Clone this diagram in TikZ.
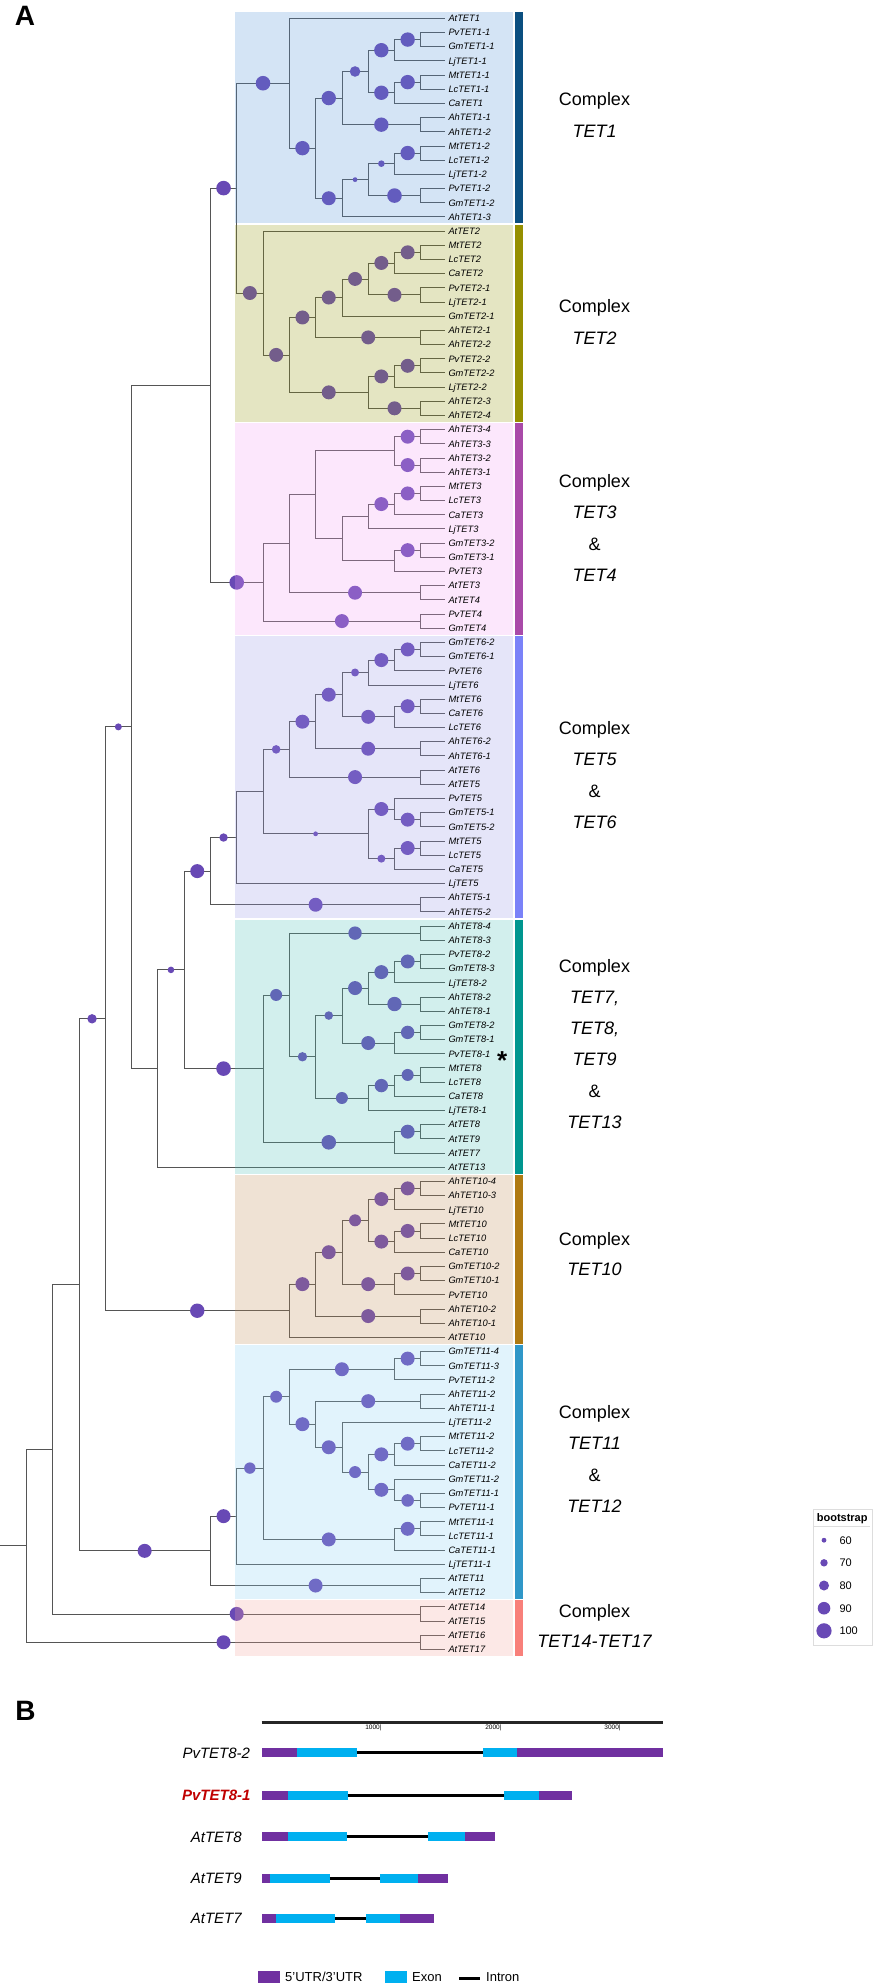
\documentclass[tikz,border=0pt]{standalone}
\usepackage{fontspec}
\setmainfont{Liberation Sans}
\usetikzlibrary{calc}
\pgfdeclarelayer{bgw}\pgfdeclarelayer{tree}\pgfdeclarelayer{pts}\pgfdeclarelayer{hl}
\pgfsetlayers{bgw,tree,pts,hl,main}
\definecolor{brc}{HTML}{555555}
\definecolor{ptc}{HTML}{6849B5}
\definecolor{hA}{HTML}{5797DB}\definecolor{bA}{HTML}{0B4F80}
\definecolor{hB}{HTML}{979B0F}\definecolor{bB}{HTML}{958F00}
\definecolor{hC}{HTML}{F7A3F7}\definecolor{bC}{HTML}{A94AA8}
\definecolor{hD}{HTML}{9B9BEB}\definecolor{bD}{HTML}{7A82F8}
\definecolor{hE}{HTML}{4FC3BB}\definecolor{bE}{HTML}{00968F}
\definecolor{hF}{HTML}{C38F57}\definecolor{bF}{HTML}{AF7A12}
\definecolor{hG}{HTML}{8BD3F7}\definecolor{bG}{HTML}{3097C8}
\definecolor{hH}{HTML}{F7A79F}\definecolor{bH}{HTML}{F8807A}
\definecolor{utr}{HTML}{7030A0}
\definecolor{exn}{HTML}{00B0F0}
\definecolor{redlab}{HTML}{C00000}
\definecolor{legb}{HTML}{DDDDDD}
\tikzset{
  br/.style={draw=brc, line width=0.8pt},
  bsc/.style={circle, inner sep=0pt, minimum size={2*#1}, fill=ptc, draw=none},
  lab/.style={font=\fontsize{9.3}{10}\selectfont\itshape, inner sep=0pt, anchor=base west},
  grp/.style={font=\fontsize{18}{20}\selectfont, inner sep=0pt, anchor=base},
  grpi/.style={font=\fontsize{18}{20}\selectfont\itshape, inner sep=0pt, anchor=base},
  lnum/.style={font=\fontsize{11}{12}\selectfont, inner sep=0pt, anchor=base west},
  glab/.style={font=\fontsize{15}{16}\selectfont\itshape, inner sep=0pt, anchor=base},
  tick/.style={font=\fontsize{6.5}{7}\selectfont, inner sep=0pt, anchor=base east},
  blab/.style={font=\fontsize{13}{14}\selectfont, inner sep=0pt, anchor=base west},
  panel/.style={font=\fontsize{28}{28}\selectfont\bfseries, inner sep=0pt, anchor=base},
}
\newcommand\mkN[4]{%
  \path let \p1=($(#3)!0.5!(#4)$) in coordinate (#1) at ({#2*26.3pt},\y1);%
  \begin{pgfonlayer}{tree}\draw[br] (#1) |- (#3); \draw[br] (#1) |- (#4);\end{pgfonlayer}}
\newcommand\mkB[3]{%
  \begin{pgfonlayer}{pts}\path let \p1=(#1), \p2=(#2) in node[bsc=#3] (b#2) at ({(\x1+\x2)/2},\y2) {};\end{pgfonlayer}}
\newcommand\hlbox[4]{%
  \pgfmathsetmacro\hlya{18.3+14.183*(#1-1)-6.4}%
  \pgfmathsetmacro\hlyb{18.3+14.183*(#2-1)+6.4}%
  \begin{pgfonlayer}{hl}\fill[#3, fill opacity=0.25] (235,\hlya) rectangle (513.3,\hlyb);\end{pgfonlayer}%
  \fill[#4] (514.7,\hlya) rectangle (523.3,\hlyb);}
\newcommand\gseg[4]{\fill[#4] (#1,#3-4.65) rectangle (#2,#3+4.65);}
\newcommand\gint[3]{\draw[line width=3pt] (#1,#3) -- (#2,#3);}
\begin{document}
\begin{tikzpicture}[x=1pt,y=-1pt]
\useasboundingbox (0,0) rectangle (873,1983);
\begin{pgfonlayer}{bgw}\fill[white] (0,0) rectangle (873,1983);\end{pgfonlayer}
\node[panel] (pA) at (25,25.1) {A};
% leaves
\foreach \nm [count=\i] in {AtTET1,PvTET1-1,GmTET1-1,LjTET1-1,MtTET1-1,LcTET1-1,CaTET1,AhTET1-1,AhTET1-2,MtTET1-2,LcTET1-2,LjTET1-2,PvTET1-2,GmTET1-2,AhTET1-3,%
AtTET2,MtTET2,LcTET2,CaTET2,PvTET2-1,LjTET2-1,GmTET2-1,AhTET2-1,AhTET2-2,PvTET2-2,GmTET2-2,LjTET2-2,AhTET2-3,AhTET2-4,%
AhTET3-4,AhTET3-3,AhTET3-2,AhTET3-1,MtTET3,LcTET3,CaTET3,LjTET3,GmTET3-2,GmTET3-1,PvTET3,AtTET3,AtTET4,PvTET4,GmTET4,%
GmTET6-2,GmTET6-1,PvTET6,LjTET6,MtTET6,CaTET6,LcTET6,AhTET6-2,AhTET6-1,AtTET6,AtTET5,PvTET5,GmTET5-1,GmTET5-2,MtTET5,LcTET5,CaTET5,LjTET5,AhTET5-1,AhTET5-2,%
AhTET8-4,AhTET8-3,PvTET8-2,GmTET8-3,LjTET8-2,AhTET8-2,AhTET8-1,GmTET8-2,GmTET8-1,PvTET8-1,MtTET8,LcTET8,CaTET8,LjTET8-1,AtTET8,AtTET9,AtTET7,AtTET13,%
AhTET10-4,AhTET10-3,LjTET10,MtTET10,LcTET10,CaTET10,GmTET10-2,GmTET10-1,PvTET10,AhTET10-2,AhTET10-1,AtTET10,%
GmTET11-4,GmTET11-3,PvTET11-2,AhTET11-2,AhTET11-1,LjTET11-2,MtTET11-2,LcTET11-2,CaTET11-2,GmTET11-2,GmTET11-1,PvTET11-1,MtTET11-1,LcTET11-1,CaTET11-1,LjTET11-1,AtTET11,AtTET12,%
AtTET14,AtTET15,AtTET16,AtTET17}{%
  \pgfmathsetmacro\yy{18.3+14.183*(\i-1)}%
  \coordinate (t\i) at (445,\yy);%
  \node[lab] (n\i) at (448.3,\yy+3.33) {\nm};%
}
% TET1
\mkN{T1h}{16}{t2}{t3}
\mkN{T1f}{15}{T1h}{t4}
\mkN{T1i}{16}{t5}{t6}
\mkN{T1g}{15}{T1i}{t7}
\mkN{T1d}{14}{T1f}{T1g}
\mkN{T1e}{16}{t8}{t9}
\mkN{T1b}{13}{T1d}{T1e}
\mkN{T1m}{16}{t10}{t11}
\mkN{T1k}{15}{T1m}{t12}
\mkN{T1l}{16}{t13}{t14}
\mkN{T1j}{14}{T1k}{T1l}
\mkN{T1c}{13}{T1j}{t15}
\mkN{T1a}{12}{T1b}{T1c}
\mkN{T1r}{11}{t1}{T1a}
% TET2
\mkN{T2i}{16}{t17}{t18}
\mkN{T2g}{15}{T2i}{t19}
\mkN{T2h}{16}{t20}{t21}
\mkN{T2f}{14}{T2g}{T2h}
\mkN{T2d}{13}{T2f}{t22}
\mkN{T2e}{16}{t23}{t24}
\mkN{T2b}{12}{T2d}{T2e}
\mkN{T2l}{16}{t25}{t26}
\mkN{T2j}{15}{T2l}{t27}
\mkN{T2k}{16}{t28}{t29}
\mkN{T2c}{14}{T2j}{T2k}
\mkN{T2a}{11}{T2b}{T2c}
\mkN{T2r}{10}{t16}{T2a}
\mkN{N12}{9}{T1r}{T2r}
% TET3/4
\mkN{T3g}{16}{t30}{t31}
\mkN{T3h}{16}{t32}{t33}
\mkN{T3e}{15}{T3g}{T3h}
\mkN{T3l}{16}{t34}{t35}
\mkN{T3k}{15}{T3l}{t36}
\mkN{T3i}{14}{T3k}{t37}
\mkN{T3m}{16}{t38}{t39}
\mkN{T3j}{15}{T3m}{t40}
\mkN{T3f}{13}{T3i}{T3j}
\mkN{T3c}{12}{T3e}{T3f}
\mkN{T3d}{16}{t41}{t42}
\mkN{T3a}{11}{T3c}{T3d}
\mkN{T3b}{16}{t43}{t44}
\mkN{T3r}{10}{T3a}{T3b}
\mkN{N1234}{8}{N12}{T3r}
% TET5/6
\mkN{T6a}{16}{t45}{t46}
\mkN{T6b}{15}{T6a}{t47}
\mkN{T6c}{14}{T6b}{t48}
\mkN{T6d}{16}{t49}{t50}
\mkN{T6e}{15}{T6d}{t51}
\mkN{T6f}{13}{T6c}{T6e}
\mkN{T6g}{16}{t52}{t53}
\mkN{T6h}{12}{T6f}{T6g}
\mkN{T6i}{16}{t54}{t55}
\mkN{T6j}{11}{T6h}{T6i}
\mkN{T5d}{16}{t57}{t58}
\mkN{T5b}{15}{t56}{T5d}
\mkN{T5e}{16}{t59}{t60}
\mkN{T5c}{15}{T5e}{t61}
\mkN{T5a}{14}{T5b}{T5c}
\mkN{T6k}{10}{T6j}{T5a}
\mkN{T6L}{9}{T6k}{t62}
\mkN{T6N}{16}{t63}{t64}
\mkN{T6M}{8}{T6L}{T6N}
% TET7-13
\mkN{T8a}{16}{t65}{t66}
\mkN{T8b}{16}{t67}{t68}
\mkN{T8c}{15}{T8b}{t69}
\mkN{T8d}{16}{t70}{t71}
\mkN{T8e}{14}{T8c}{T8d}
\mkN{T8f}{16}{t72}{t73}
\mkN{T8g}{15}{T8f}{t74}
\mkN{T8h}{13}{T8e}{T8g}
\mkN{T8i}{16}{t75}{t76}
\mkN{T8j}{15}{T8i}{t77}
\mkN{T8k}{14}{T8j}{t78}
\mkN{T8l}{12}{T8h}{T8k}
\mkN{T8m}{11}{T8a}{T8l}
\mkN{T8n}{16}{t79}{t80}
\mkN{T8o}{15}{T8n}{t81}
\mkN{T8p}{10}{T8m}{T8o}
\mkN{T7X}{7}{T6M}{T8p}
\mkN{T7Y}{6}{T7X}{t82}
\mkN{T5X}{5}{N1234}{T7Y}
% TET10
\mkN{T10a}{16}{t83}{t84}
\mkN{T10b}{15}{T10a}{t85}
\mkN{T10c}{16}{t86}{t87}
\mkN{T10d}{15}{T10c}{t88}
\mkN{T10e}{14}{T10b}{T10d}
\mkN{T10f}{16}{t89}{t90}
\mkN{T10g}{15}{T10f}{t91}
\mkN{T10h}{13}{T10e}{T10g}
\mkN{T10i}{16}{t92}{t93}
\mkN{T10j}{12}{T10h}{T10i}
\mkN{T10r}{11}{T10j}{t94}
\mkN{T4X}{4}{T5X}{T10r}
% TET11/12
\mkN{T11a}{16}{t95}{t96}
\mkN{T11b}{15}{T11a}{t97}
\mkN{T11c}{16}{t98}{t99}
\mkN{T11d}{16}{t101}{t102}
\mkN{T11e}{15}{T11d}{t103}
\mkN{T11f}{16}{t105}{t106}
\mkN{T11g}{15}{t104}{T11f}
\mkN{T11h}{14}{T11e}{T11g}
\mkN{T11i}{13}{t100}{T11h}
\mkN{T11j}{12}{T11c}{T11i}
\mkN{T11k}{11}{T11b}{T11j}
\mkN{T11l}{16}{t107}{t108}
\mkN{T11m}{15}{T11l}{t109}
\mkN{T11n}{10}{T11k}{T11m}
\mkN{T11o}{9}{T11n}{t110}
\mkN{T11p}{16}{t111}{t112}
\mkN{T11r}{8}{T11o}{T11p}
\mkN{T3X}{3}{T4X}{T11r}
\mkN{T14}{16}{t113}{t114}
\mkN{T2X}{2}{T3X}{T14}
\mkN{T16}{16}{t115}{t116}
\mkN{T1X}{1}{T2X}{T16}
\path let \p1=(T1X) in coordinate (R0) at (0pt,\y1);
\begin{pgfonlayer}{tree}\draw[br] (R0) -- (T1X);\end{pgfonlayer}
% bootstrap circles
\mkB{N12}{T1r}{7.3}\mkB{T1r}{T1a}{7.2}\mkB{T1a}{T1b}{7.2}\mkB{T1a}{T1c}{7}
\mkB{T1b}{T1d}{5.3}\mkB{T1b}{T1e}{7.2}\mkB{T1d}{T1f}{7.2}\mkB{T1d}{T1g}{7.2}
\mkB{T1f}{T1h}{7.2}\mkB{T1g}{T1i}{7.2}\mkB{T1c}{T1j}{2.4}\mkB{T1j}{T1k}{3.3}
\mkB{T1j}{T1l}{7.3}\mkB{T1k}{T1m}{7.2}
\mkB{N12}{T2r}{7}\mkB{T2r}{T2a}{7}\mkB{T2a}{T2b}{7}\mkB{T2a}{T2c}{7}
\mkB{T2b}{T2d}{7}\mkB{T2b}{T2e}{7}\mkB{T2d}{T2f}{7}\mkB{T2f}{T2g}{7}
\mkB{T2f}{T2h}{7}\mkB{T2g}{T2i}{7}\mkB{T2c}{T2j}{7}\mkB{T2c}{T2k}{7}\mkB{T2j}{T2l}{7}
\mkB{N1234}{N12}{7.3}\mkB{N1234}{T3r}{7.3}
\mkB{T3r}{T3b}{7}\mkB{T3a}{T3d}{7}\mkB{T3e}{T3g}{7}\mkB{T3e}{T3h}{7}
\mkB{T3i}{T3k}{7}\mkB{T3k}{T3l}{7}\mkB{T3j}{T3m}{7}
\mkB{T4X}{T5X}{3.5}
\mkB{T6b}{T6a}{7}\mkB{T6c}{T6b}{7}\mkB{T6f}{T6c}{4}\mkB{T6e}{T6d}{7}
\mkB{T6f}{T6e}{7}\mkB{T6h}{T6f}{7}\mkB{T6h}{T6g}{7}\mkB{T6j}{T6h}{7}
\mkB{T6j}{T6i}{7}\mkB{T6k}{T6j}{4.3}\mkB{T5b}{T5d}{7}\mkB{T5a}{T5b}{7}
\mkB{T5c}{T5e}{7}\mkB{T5a}{T5c}{4}\mkB{T6k}{T5a}{2.4}\mkB{T6M}{T6L}{4.2}
\mkB{T6M}{T6N}{7}\mkB{T7X}{T6M}{7}
\mkB{T8m}{T8a}{6.7}\mkB{T8c}{T8b}{7}\mkB{T8e}{T8c}{7}\mkB{T8e}{T8d}{7.2}
\mkB{T8h}{T8e}{7}\mkB{T8g}{T8f}{6.7}\mkB{T8h}{T8g}{7}\mkB{T8l}{T8h}{4.3}
\mkB{T8j}{T8i}{6}\mkB{T8k}{T8j}{6.7}\mkB{T8l}{T8k}{6}\mkB{T8m}{T8l}{4.7}
\mkB{T8p}{T8m}{6}\mkB{T8o}{T8n}{7}\mkB{T8p}{T8o}{7.3}\mkB{T7X}{T8p}{7.3}
\mkB{T7Y}{T7X}{3.3}
\mkB{T10b}{T10a}{7}\mkB{T10e}{T10b}{7}\mkB{T10d}{T10c}{7}\mkB{T10e}{T10d}{7}
\mkB{T10h}{T10e}{6}\mkB{T10g}{T10f}{7}\mkB{T10h}{T10g}{7}\mkB{T10j}{T10h}{7}
\mkB{T10j}{T10i}{7}\mkB{T10r}{T10j}{7}\mkB{T4X}{T10r}{7.2}
\mkB{T11b}{T11a}{7}\mkB{T11k}{T11b}{7}\mkB{T11j}{T11c}{7}\mkB{T11e}{T11d}{7}
\mkB{T11h}{T11e}{7}\mkB{T11g}{T11f}{6.3}\mkB{T11h}{T11g}{7}\mkB{T11i}{T11h}{6}
\mkB{T11j}{T11i}{7}\mkB{T11k}{T11j}{7}\mkB{T11n}{T11k}{6}\mkB{T11m}{T11l}{7}
\mkB{T11n}{T11m}{7}\mkB{T11o}{T11n}{5.7}\mkB{T11r}{T11o}{7}\mkB{T11r}{T11p}{7}
\mkB{T3X}{T11r}{7}\mkB{T3X}{T4X}{4.7}
\mkB{T2X}{T14}{7}\mkB{T1X}{T16}{7}
% highlight boxes and bars
\hlbox{1}{15}{hA}{bA}
\hlbox{16}{29}{hB}{bB}
\hlbox{30}{44}{hC}{bC}
\hlbox{45}{64}{hD}{bD}
\hlbox{65}{82}{hE}{bE}
\hlbox{83}{94}{hF}{bF}
\hlbox{95}{112}{hG}{bG}
\hlbox{113}{116}{hH}{bH}
% asterisk
\node[font=\fontsize{26}{26}\selectfont\bfseries, inner sep=0pt, anchor=base] (ast) at (502.3,1069) {*};
% group labels
\node[grp] (g1a) at (594.5,105.4) {Complex};
\node[grpi] (g1b) at (594.5,137.2) {TET1};
\node[grp] (g2a) at (594.5,312.7) {Complex};
\node[grpi] (g2b) at (594.5,344.4) {TET2};
\node[grp] (g3a) at (594.5,487.7) {Complex};
\node[grpi] (g3b) at (594.5,518.9) {TET3};
\node[grp] (g3c) at (594.5,550.2) {\&};
\node[grpi] (g3d) at (594.5,581.4) {TET4};
\node[grp] (g5a) at (594.5,734.6) {Complex};
\node[grpi] (g5b) at (594.5,765.8) {TET5};
\node[grp] (g5c) at (594.5,797) {\&};
\node[grpi] (g5d) at (594.5,828.3) {TET6};
\node[grp] (g7a) at (594.5,972.2) {Complex};
\node[grpi] (g7b) at (594.5,1003.4) {TET7,};
\node[grpi] (g7c) at (594.5,1034.6) {TET8,};
\node[grpi] (g7d) at (594.5,1065.9) {TET9};
\node[grp] (g7e) at (594.5,1097.1) {\&};
\node[grpi] (g7f) at (594.5,1128.3) {TET13};
\node[grp] (g10a) at (594.5,1245.3) {Complex};
\node[grpi] (g10b) at (594.5,1275.9) {TET10};
\node[grp] (g11a) at (594.5,1418.6) {Complex};
\node[grpi] (g11b) at (594.5,1449.8) {TET11};
\node[grp] (g11c) at (594.5,1481) {\&};
\node[grpi] (g11d) at (594.5,1512.3) {TET12};
\node[grp] (g14a) at (594.5,1617) {Complex};
\node[grpi] (g14b) at (594.5,1647.6) {TET14-TET17};
% bootstrap legend
\node[draw=legb, line width=0.5pt, fill=white, minimum width=59, minimum height=136, anchor=north west, inner sep=0pt] (legbox) at (812.5,1509) {};
\node[font=\fontsize{11}{12}\selectfont\bfseries, inner sep=0pt, anchor=base] (legt) at (842.2,1521.5) {bootstrap};
\draw[legb, line width=0.6pt] (814,1526.7) -- (870,1526.7);
\node[bsc=2.4] (lg60) at (824,1540.2) {};
\node[bsc=3.7] (lg70) at (824,1562.8) {};
\node[bsc=5] (lg80) at (824,1585.5) {};
\node[bsc=6.3] (lg90) at (824,1608.2) {};
\node[bsc=7.6] (lg100) at (824,1630.8) {};
\node[lnum] (ln60) at (839.3,1544.2) {60};
\node[lnum] (ln70) at (839.3,1566.8) {70};
\node[lnum] (ln80) at (839.3,1589.5) {80};
\node[lnum] (ln90) at (839.3,1612.2) {90};
\node[lnum] (ln100) at (839.3,1634.8) {100};
% panel B
\node[panel] (pB) at (25.6,1720) {B};
\draw[line width=2.6pt, color=black!85] (261.7,1722.5) -- (662.6,1722.5);
\node[tick] (k1) at (381.7,1729.5) {1000|};
\node[tick] (k2) at (501.7,1729.5) {2000|};
\node[tick] (k3) at (620.8,1729.5) {3000|};
\node[glab] (r1) at (216.3,1758.1) {PvTET8-2};
\node[glab, text=redlab, font=\fontsize{15}{16}\selectfont\itshape\bfseries] (r2) at (216.3,1800.7) {PvTET8-1};
\node[glab] (r3) at (216.3,1842.1) {AtTET8};
\node[glab] (r4) at (216.3,1883.7) {AtTET9};
\node[glab] (r5) at (216.3,1923.7) {AtTET7};
% PvTET8-2
\gseg{261.7}{296.7}{1752.7}{utr}\gseg{296.7}{356.7}{1752.7}{exn}\gint{356.7}{482.7}{1752.7}
\gseg{482.7}{517.3}{1752.7}{exn}\gseg{517.3}{662.6}{1752.7}{utr}
% PvTET8-1
\gseg{261.7}{287.7}{1795.3}{utr}\gseg{287.7}{348.3}{1795.3}{exn}\gint{348.3}{504}{1795.3}
\gseg{504}{539.3}{1795.3}{exn}\gseg{539.3}{572}{1795.3}{utr}
% AtTET8
\gseg{261.7}{287.7}{1836.7}{utr}\gseg{287.7}{346.7}{1836.7}{exn}\gint{346.7}{427.7}{1836.7}
\gseg{427.7}{465}{1836.7}{exn}\gseg{465}{495}{1836.7}{utr}
% AtTET9
\gseg{262}{269.5}{1878.3}{utr}\gseg{269.5}{329.6}{1878.3}{exn}\gint{329.6}{380.3}{1878.3}
\gseg{380.3}{418.2}{1878.3}{exn}\gseg{418.2}{447.7}{1878.3}{utr}
% AtTET7
\gseg{262}{275.6}{1918.3}{utr}\gseg{275.6}{335.2}{1918.3}{exn}\gint{335.2}{366.4}{1918.3}
\gseg{366.4}{400.3}{1918.3}{exn}\gseg{400.3}{433.7}{1918.3}{utr}
% legend B
\fill[utr] (257.8,1971.2) rectangle (279.5,1983);
\node[blab] (lu) at (285,1981.3) {5'UTR/3'UTR};
\fill[exn] (385.3,1971.2) rectangle (407,1983);
\node[blab] (le) at (412,1981.3) {Exon};
\draw[line width=3pt] (459.3,1978.5) -- (480,1978.5);
\node[blab] (li) at (486,1981.3) {Intron};
\end{tikzpicture}
\end{document}
